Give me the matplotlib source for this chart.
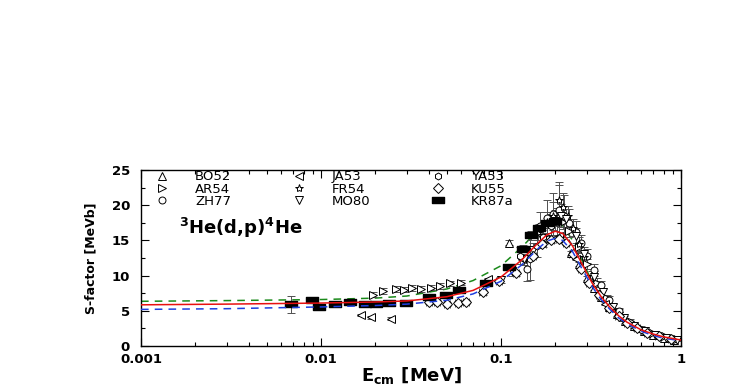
import numpy as np
import matplotlib
matplotlib.use('Agg')
import matplotlib.pyplot as plt
from matplotlib.path import Path
from matplotlib.lines import Line2D

# fit curves
e_fit = [0.001, 0.003, 0.01, 0.02, 0.03, 0.05, 0.07, 0.1, 0.13, 0.16, 0.18, 0.2, 0.22,
         0.25, 0.28, 0.32, 0.36, 0.4, 0.45, 0.5, 0.6, 0.7, 0.8, 1.0]
s_red = [5.85, 5.95, 6.1, 6.25, 6.4, 7.0, 7.9, 9.8, 12.2, 14.6, 15.8, 16.3, 16.0,
         14.2, 11.8, 9.0, 7.0, 5.6, 4.3, 3.4, 2.3, 1.7, 1.3, 0.85]
s_green = [6.35, 6.45, 6.6, 6.8, 7.1, 8.1, 9.3, 11.4, 14.0, 16.4, 17.4, 17.6, 17.1,
           15.0, 12.3, 9.2, 7.0, 5.5, 4.2, 3.3, 2.2, 1.6, 1.2, 0.8]
s_blue = [5.2, 5.3, 5.55, 5.75, 5.95, 6.5, 7.4, 9.2, 11.5, 13.8, 14.9, 15.3, 15.0,
          13.4, 11.1, 8.5, 6.6, 5.3, 4.0, 3.2, 2.1, 1.5, 1.1, 0.75]

# data sets
bo52_e = [0.111, 0.245, 0.27, 0.30, 0.33, 0.36, 0.40, 0.44, 0.49, 0.55, 0.62, 0.70, 0.80, 0.92]
bo52_s = [14.7, 13.2, 11.6, 9.7, 8.3, 7.0, 5.6, 4.6, 3.6, 2.8, 2.1, 1.6, 1.2, 0.9]

ja53_e = [0.0167, 0.019, 0.0245, 0.085, 0.13, 0.175, 0.21, 0.26, 0.31, 0.38, 0.47, 0.6]
ja53_s = [4.4, 4.1, 3.9, 9.5, 12.4, 15.2, 15.6, 12.4, 9.0, 6.0, 3.8, 2.2]

ya53_e = [0.128, 0.145, 0.158, 0.172, 0.19, 0.205]
ya53_s = [12.8, 12.4, 14.2, 15.5, 17.0, 17.6]
ya53_err = [1.2, 3.0, 1.5, 1.5, 2.0, 2.0]

ar54_e = [0.0195, 0.022, 0.026, 0.029, 0.032, 0.036, 0.041, 0.046, 0.052, 0.06,
          0.22, 0.24, 0.27, 0.3, 0.34, 0.39, 0.45, 0.52, 0.6, 0.7, 0.82, 0.95]
ar54_s = [7.3, 7.8, 8.1, 8.0, 8.2, 8.1, 8.3, 8.5, 8.9, 9.0,
          17.6, 16.4, 14.0, 11.6, 9.0, 6.8, 4.9, 3.6, 2.6, 1.9, 1.4, 1.0]
ar54_err = [0.4, 0.4, 0.4, 0.4, 0.4, 0.4, 0.4, 0.4, 0.4, 0.4,
            1.0, 0.9, 0.8, 0.7, 0.6, 0.5, 0.4, 0.3, 0.3, 0.2, 0.2, 0.2]

fr54_e = [0.16, 0.18, 0.195, 0.21, 0.22, 0.235, 0.25, 0.27, 0.29, 0.32]
fr54_s = [16.0, 17.6, 18.5, 20.8, 19.8, 18.4, 16.8, 14.5, 12.6, 10.0]
fr54_err = [1.0, 1.5, 2.0, 2.5, 2.0, 1.5, 1.2, 1.0, 0.8, 0.6]

ku55_e = [0.040, 0.044, 0.050, 0.058, 0.064, 0.079, 0.098, 0.121, 0.15, 0.17, 0.19, 0.21,
          0.23, 0.25, 0.28, 0.31, 0.35, 0.40, 0.45, 0.5, 0.57, 0.65, 0.75, 0.88]
ku55_s = [6.3, 6.3, 6.0, 6.1, 6.3, 7.6, 9.2, 10.3, 12.8, 14.5, 15.0, 15.2,
          14.6, 13.0, 11.0, 9.0, 7.2, 5.4, 4.2, 3.3, 2.5, 1.9, 1.4, 1.0]

zh77_e = [0.14, 0.165, 0.18, 0.195, 0.21, 0.225, 0.24, 0.26, 0.28, 0.30, 0.33, 0.36, 0.40, 0.45]
zh77_s = [11.0, 17.0, 18.2, 18.8, 19.3, 18.5, 17.5, 16.2, 14.6, 12.8, 10.8, 8.6, 6.6, 5.0]
zh77_err = [1.8, 2.0, 2.5, 3.0, 3.6, 3.0, 2.0, 1.6, 1.2, 1.0, 0.8, 0.6, 0.5, 0.4]

mo80_e = [0.1, 0.115, 0.135, 0.15, 0.17, 0.19, 0.2, 0.215, 0.23, 0.26, 0.29, 0.33, 0.37,
          0.42, 0.48, 0.55, 0.63, 0.72, 0.83, 0.95]
mo80_s = [9.4, 10.6, 12.3, 13.6, 15.3, 17.2, 17.8, 18.5, 18.0, 15.6, 13.0, 9.8, 7.6,
          5.6, 4.0, 2.9, 2.1, 1.6, 1.2, 0.9]
mo80_err = [0.5, 0.6, 0.8, 1.0, 1.2, 1.5, 1.5, 1.6, 1.4, 1.2, 1.0, 0.8, 0.6,
            0.4, 0.3, 0.3, 0.2, 0.2, 0.2, 0.2]

kr87_e = [0.0068, 0.0089, 0.0098, 0.0119, 0.0145, 0.0175, 0.0203, 0.024, 0.0297, 0.040,
          0.0496, 0.0588, 0.083, 0.111, 0.133, 0.147, 0.163, 0.18, 0.20]
kr87_s = [5.9, 6.5, 5.6, 5.9, 6.3, 6.0, 5.9, 6.1, 6.1, 7.0,
          7.3, 7.9, 8.9, 11.2, 13.8, 15.7, 16.8, 17.5, 17.8]
kr87_err = [1.2, 0.3, 0.3, 0.3, 0.3, 0.3, 0.3, 0.3, 0.3, 0.3,
            0.3, 0.3, 0.3, 0.4, 0.5, 0.6, 0.6, 0.7, 0.8]

plt.rcParams['font.family'] = ['DejaVu Sans']
plt.rcParams['font.weight'] = 'bold'

fig = plt.figure(figsize=(7.47, 3.88), dpi=100)
ax = fig.add_axes([141 / 747, 42 / 388, 540 / 747, 176 / 388])

ax.plot(e_fit, s_green, '--', color='#1a8a1a', lw=1.1, dashes=(5, 4), zorder=1.5)
ax.plot(e_fit, s_blue, '--', color='#1f3fe0', lw=1.1, dashes=(5, 4), zorder=3)
ax.plot(e_fit, s_red, '-', color='#e81010', lw=1.1, zorder=4)

rect = Path([(-1, -0.55), (1, -0.55), (1, 0.55), (-1, 0.55), (-1, -0.55)],
            [Path.MOVETO, Path.LINETO, Path.LINETO, Path.LINETO, Path.CLOSEPOLY])

ebar = dict(ecolor='#505050', elinewidth=0.7, capsize=3, capthick=0.7, linestyle='none')
hollow = dict(markerfacecolor='white', markeredgecolor='black', markeredgewidth=0.7)

# (label, marker, size) -> legend handles in column-first order
sets = [
    (bo52_e, bo52_s, 0.3, None, '^', 6, 'BO52'),
    (ar54_e, ar54_s, ar54_err, None, '>', 6, 'AR54'),
    (zh77_e, zh77_s, zh77_err, None, 'o', 5, 'ZH77'),
    (ja53_e, ja53_s, 0.2, None, '<', 6, 'JA53'),
    (fr54_e, fr54_s, fr54_err, None, '*', 6, 'FR54'),
    (mo80_e, mo80_s, mo80_err, None, 'v', 6, 'MO80'),
    (ya53_e, ya53_s, ya53_err, None, 'h', 5, 'YA53'),
    (ku55_e, ku55_s, 0.3, np.array(ku55_e) * 0.04, 'D', 5, 'KU55'),
]
handles = []
for e, s, err, xerr, mk, ms, lab in sets:
    ax.errorbar(e, s, yerr=err, xerr=xerr, marker=mk, ms=ms, **hollow, **ebar)
    handles.append(Line2D([], [], linestyle='none', marker=mk, ms=ms, label=lab, **hollow))

ax.errorbar(kr87_e, kr87_s, yerr=kr87_err, marker=rect, ms=8, color='black', **ebar)
handles.append(Line2D([], [], linestyle='none', marker=rect, ms=8, color='black', label='KR87a'))

ax.set_xscale('log')
ax.set_xlim(0.001, 1)
ax.set_ylim(0, 25)
ax.set_xticks([0.001, 0.01, 0.1, 1])
ax.set_xticklabels(['0.001', '0.01', '0.1', '1'])
ax.set_yticks([0, 5, 10, 15, 20, 25])
ax.set_yticks(np.arange(0, 25, 2.5), minor=True)
ax.tick_params(which='both', direction='in', top=True, right=True, width=0.8)
ax.tick_params(which='major', length=6, labelsize=9.5)
ax.tick_params(which='minor', length=3)
ax.tick_params(axis='x', pad=5)
ax.tick_params(axis='y', pad=8)
for sp in ax.spines.values():
    sp.set_linewidth(1.0)

ax.set_xlabel(r'$\mathbf{E_{cm}}$ [MeV]', fontsize=13, fontweight='bold', labelpad=-1)
ax.set_ylabel('S-factor [MeVb]', fontsize=9, fontweight='bold', labelpad=10)

ax.text(0.07, 0.67, r'$^{\mathbf{3}}$He(d,p)$^{\mathbf{4}}$He', transform=ax.transAxes,
        fontsize=13, fontweight='bold', va='center')

leg = ax.legend(handles=handles, ncol=3, loc='upper left', bbox_to_anchor=(0.01, 1.05),
                frameon=False, fontsize=9.5, handlelength=1, handletextpad=2.0,
                columnspacing=4.6, labelspacing=-0.05, borderpad=0.2)
for t in leg.get_texts():
    t.set_fontweight('normal')

fig.savefig('out.png', dpi=100)
